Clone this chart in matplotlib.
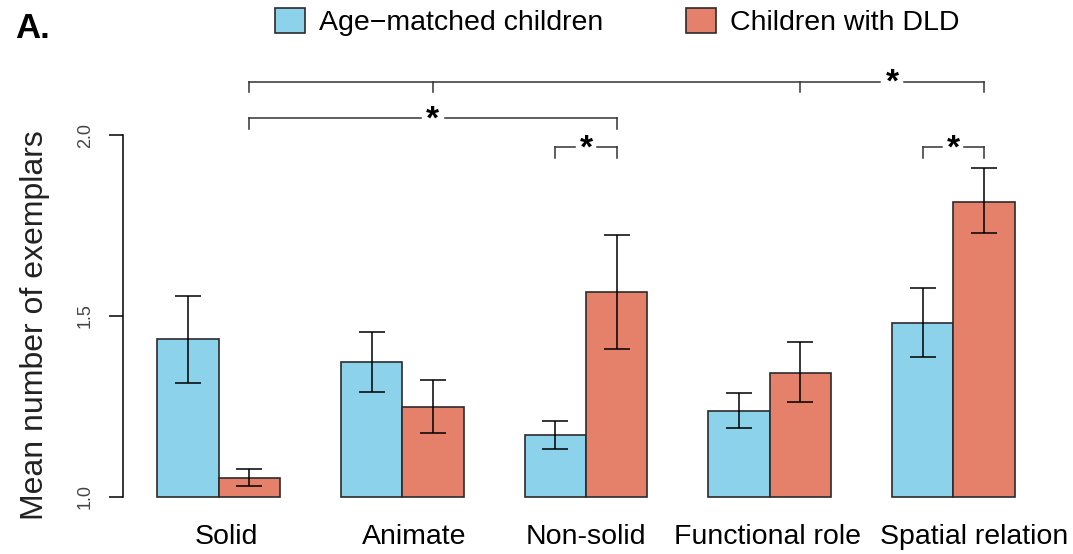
import matplotlib
matplotlib.use('Agg')
import matplotlib.pyplot as plt
from matplotlib.patches import Patch
import numpy as np

plt.rcParams['font.family'] = ['Liberation Sans', 'DejaVu Sans']

categories = ['Solid', 'Animate', 'Non-solid', 'Functional role', 'Spatial relation']
groups = ['Age\u2212matched children', 'Children with DLD']

age_mean = [1.435, 1.372, 1.171, 1.238, 1.481]
age_low = [1.315, 1.289, 1.132, 1.190, 1.387]
age_high = [1.556, 1.455, 1.209, 1.286, 1.578]

dld_mean = [1.051, 1.249, 1.567, 1.343, 1.816]
dld_low = [1.030, 1.176, 1.408, 1.262, 1.730]
dld_high = [1.077, 1.323, 1.724, 1.427, 1.908]

col_age = '#8CD2EB'
col_dld = '#E5806B'
edge = '#2b2b2b'

W, H = 1073, 554
fig = plt.figure(figsize=(W / 100, H / 100), dpi=100)
# axes placed in pixel terms: left spine at x=123, y=1.0 at px 496.7
ax = fig.add_axes([123 / W, (H - 511.2) / H, (1049 - 123) / W, (511.2 - 62.7) / H])
ax.set_xlim(0.44, 15.56)
ax.set_ylim(0.96, 2.2)

n = len(categories)
x_age = np.arange(n) * 3 + 1.5
x_dld = np.arange(n) * 3 + 2.5

age_mean = np.array(age_mean)
dld_mean = np.array(dld_mean)
ax.bar(x_age, age_mean - 1.0, bottom=1.0, width=1.0, color=col_age,
       edgecolor=edge, linewidth=1.2)
ax.bar(x_dld, dld_mean - 1.0, bottom=1.0, width=1.0, color=col_dld,
       edgecolor=edge, linewidth=1.2)

for xs, m, lo, hi in [(x_age, age_mean, age_low, age_high),
                      (x_dld, dld_mean, dld_low, dld_high)]:
    yerr = [m - np.array(lo), np.array(hi) - m]
    ax.errorbar(xs, m, yerr=yerr, fmt='none', ecolor='black',
                elinewidth=1.1, capsize=9.7, capthick=1.1)

for s in ['top', 'right', 'bottom']:
    ax.spines[s].set_visible(False)
ax.spines['left'].set_bounds(1.0, 2.0)
ax.spines['left'].set_linewidth(1.1)
ax.set_yticks([1.0, 1.5, 2.0])
ax.set_yticklabels(['1.0', '1.5', '2.0'], rotation=90, va='center')
ax.tick_params(axis='y', length=10, width=1.1, labelsize=13, pad=11,
               labelcolor='#444444')
# labels sit a little off the group centres in the original
label_shift = [0.12, 0.2, 0.0, -0.03, 0.33]
ax.set_xticks(np.arange(n) * 3 + 2 + np.array(label_shift))
ax.set_xticklabels(categories)
ax.tick_params(axis='x', length=0, labelsize=20.5, pad=9)

fig.text(35 / W, 1 - 325 / H, 'Mean number of exemplars', rotation=90,
         ha='center', va='center', fontsize=23, color='#222222')


# significance brackets
def bracket(x0, x1, y, star_x, ticks, drop=0.029, gap=0.2):
    lc = '#333333'
    ax.plot([x0, star_x - gap], [y, y], color=lc, lw=1.1, clip_on=False)
    ax.plot([star_x + gap, x1], [y, y], color=lc, lw=1.1, clip_on=False)
    for t in ticks:
        ax.plot([t, t], [y, y - drop], color=lc, lw=1.1, clip_on=False)
    ax.text(star_x, y - 0.028, '*', ha='center', va='baseline', fontsize=24,
            fontweight='bold', clip_on=False)


bracket(2.5, 14.5, 2.147, 13.0, [2.5, 5.5, 11.5, 14.5], gap=0.2)
bracket(2.5, 8.5, 2.047, 5.5, [2.5, 8.5], gap=0.2)
bracket(7.5, 8.5, 1.966, 8.0, [7.5, 8.5], gap=0.18)
bracket(13.5, 14.5, 1.966, 14.0, [13.5, 14.5], gap=0.18)

handles = [Patch(facecolor=col_age, edgecolor=edge, linewidth=1.2),
           Patch(facecolor=col_dld, edgecolor=edge, linewidth=1.2)]
fig.legend(handles, groups, loc='center left', bbox_to_anchor=(275 / W, 1 - 22 / H),
           ncol=2, frameon=False, fontsize=20.5, handlelength=1.05,
           handleheight=0.95, handletextpad=0.5, columnspacing=2.9,
           borderaxespad=0, borderpad=0)

fig.text(15 / W, 1 - 29 / H, 'A.', ha='left', va='center', fontsize=25,
         fontweight='bold')

fig.savefig('out.png', dpi=100)
